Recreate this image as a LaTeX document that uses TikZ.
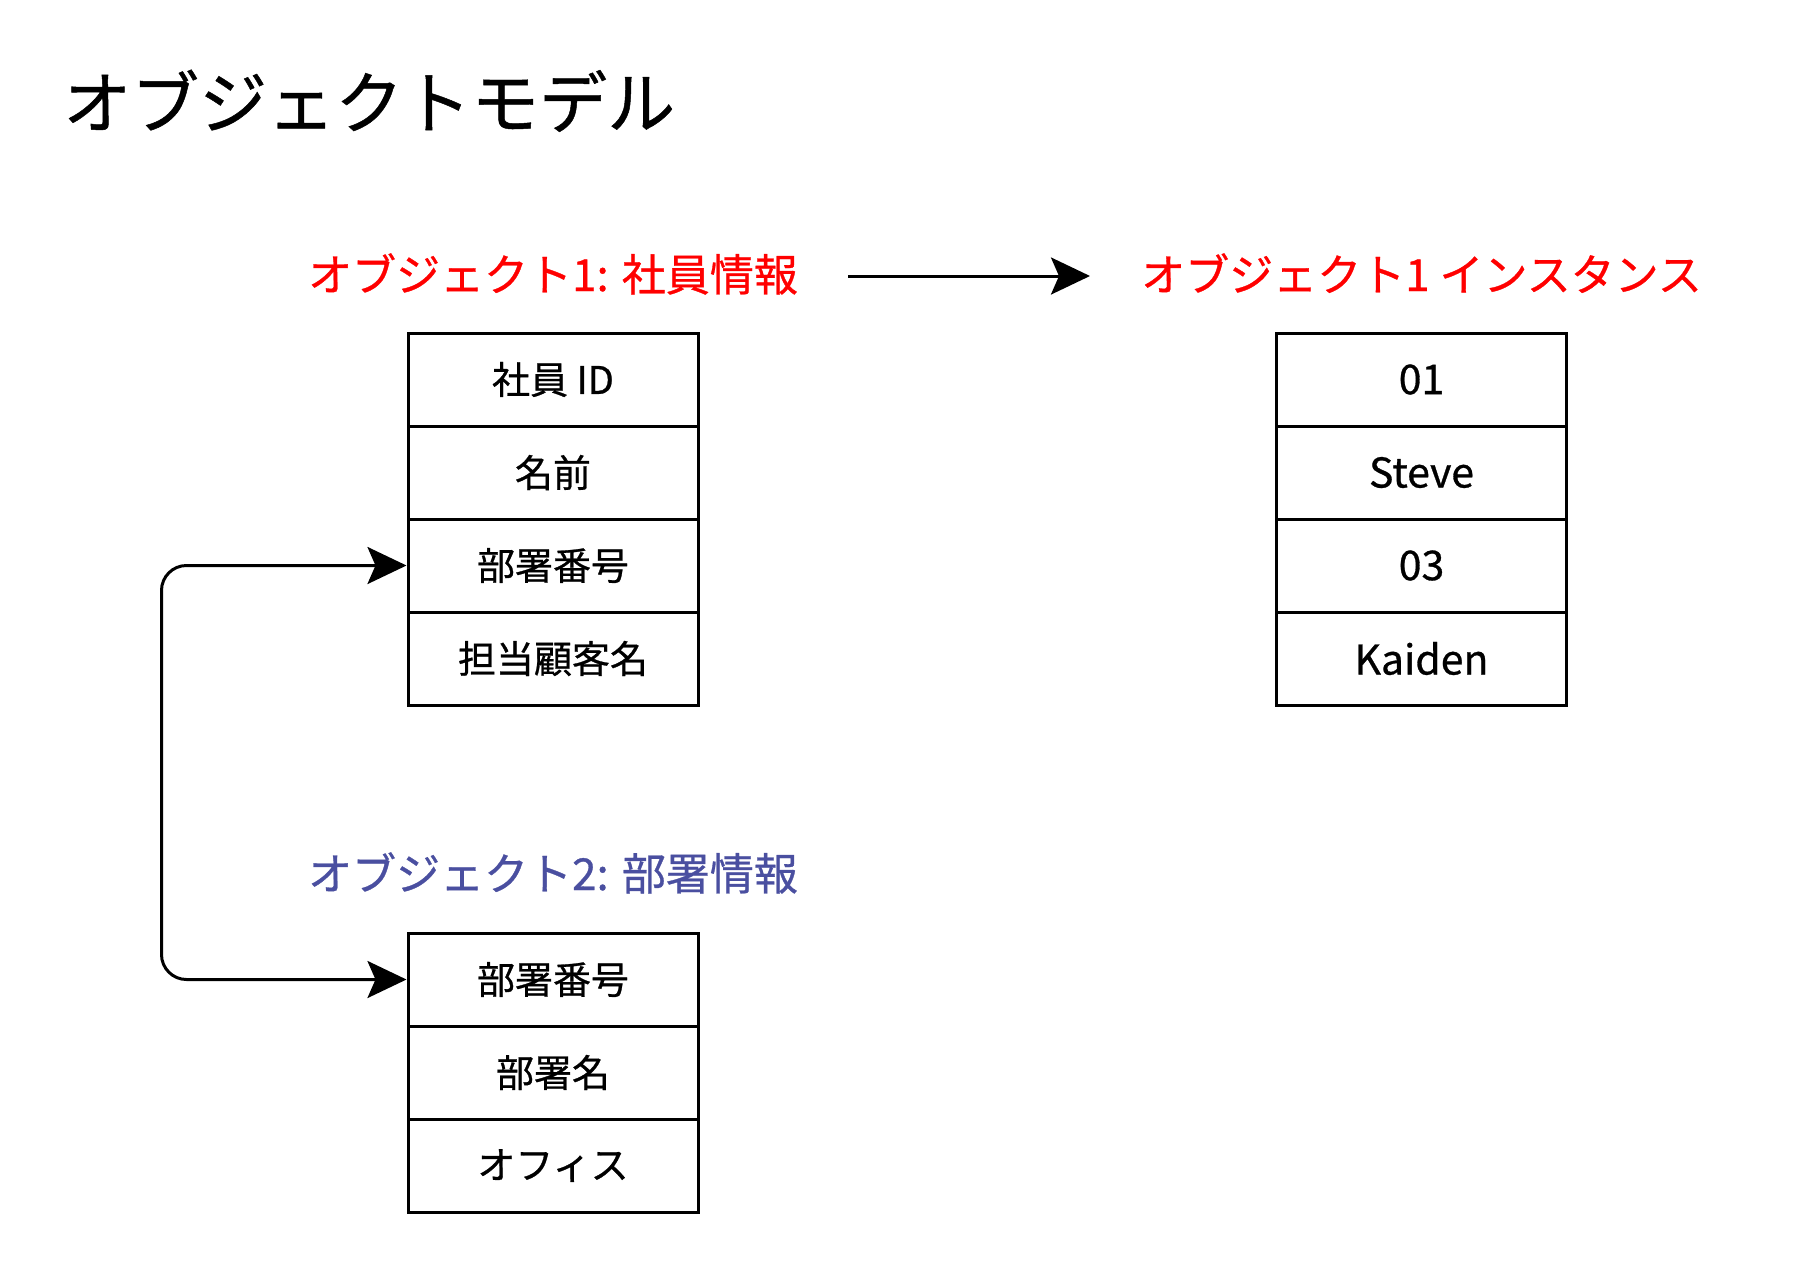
\documentclass[tikz,border=0pt]{standalone}
\usepackage{fontspec}
\setmainfont{Noto Sans CJK JP}[FakeBold=0.7]
\usetikzlibrary{arrows.meta}
\definecolor{labred}{HTML}{FF0000}
\definecolor{labblue}{HTML}{4A4FA0}
\begin{document}
\begin{tikzpicture}[x=1pt,y=-1pt,
  cell/.style={draw=black,line width=3pt,minimum width=290pt,minimum height=93pt,inner sep=0pt,
    font=\fontsize{38}{44}\selectfont},
  latin/.style={font=\fontsize{41}{48}\selectfont},
  titletext/.style={inner sep=0pt,anchor=base west,font=\fontsize{68}{80}\selectfont},
  labtext/.style={inner sep=0pt,anchor=base,font=\fontsize{44}{52}\selectfont},
  conn/.style={line width=3pt,{Stealth[length=39pt,width=37pt,inset=8pt]}-{Stealth[length=39pt,width=37pt,inset=8pt]}},
  oneway/.style={line width=3pt,-{Stealth[length=39pt,width=37pt,inset=8pt]}}]
\useasboundingbox[fill=white] (0,0) rectangle (1796,1286);

\node[titletext] (title) at (63,128) {オブジェクトモデル};

\node[labtext,text=labred] (lab1) at (553,291) {オブジェクト1: 社員情報};
\node[labtext,text=labred] (lab2) at (1421.5,291) {オブジェクト1 インスタンス};
\node[labtext,text=labblue] (lab3) at (553,890) {オブジェクト2: 部署情報};

\node[cell] (a1) at (553,379.5) {社員 ID};
\node[cell] (a2) at (553,472.5) {名前};
\node[cell] (a3) at (553,565.5) {部署番号};
\node[cell] (a4) at (553,658.5) {担当顧客名};

\node[cell,latin] (b1) at (1421.5,379.5) {01};
\node[cell,latin] (b2) at (1421.5,472.5) {Steve};
\node[cell,latin] (b3) at (1421.5,565.5) {03};
\node[cell,latin] (b4) at (1421.5,658.5) {Kaiden};

\node[cell] (c1) at (553,979.5) {部署番号};
\node[cell] (c2) at (553,1072.5) {部署名};
\node[cell] (c3) at (553,1165.5) {オフィス};

\coordinate (s) at (848,276);
\coordinate (t) at (1090,276);
\draw[oneway] (s) -- (t);

\coordinate (bend) at (161.5,772);
\draw[conn,rounded corners=25pt] (a3.west) -| (bend) |- (c1.west);
\end{tikzpicture}
\end{document}
